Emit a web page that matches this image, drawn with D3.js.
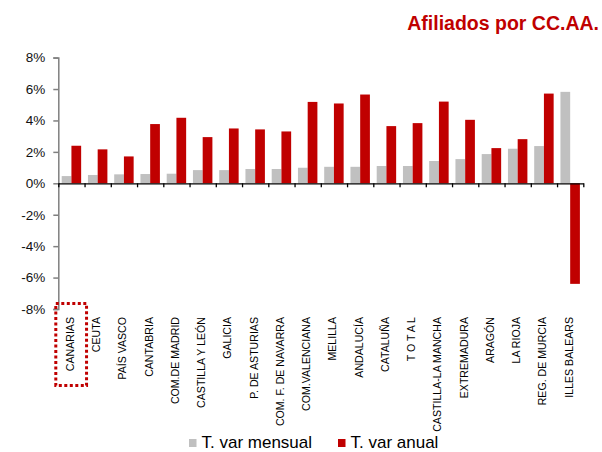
<!DOCTYPE html>
<html>
<head>
<meta charset="utf-8">
<script src="https://cdn.jsdelivr.net/npm/d3@7"></script>
<style>
  body { margin: 0; background: #fff; }
  svg { display: block; font-family: Arial, "Liberation Sans", sans-serif; }
  .yAxis path, .yAxis line { stroke: #808080; stroke-width: 1.5; }
  .xAxis path, .xAxis line { stroke: #000; stroke-width: 1.3; }
  .yAxis text { font-size: 13.5px; fill: #111; }
</style>
</head>
<body>
<div id="chartWrap"></div>
<script>
var categories = ["CANARIAS", "CEUTA", "PAÍS VASCO", "CANTABRIA", "COM.DE MADRID",
    "CASTILLA Y LEÓN", "GALICIA", "P. DE ASTURIAS", "COM. F. DE NAVARRA",
    "COM.VALENCIANA", "MELILLA", "ANDALUCÍA", "CATALUÑA", "T O T A L",
    "CASTILLA-LA MANCHA", "EXTREMADURA", "ARAGÓN", "LA RIOJA",
    "REG. DE MURCIA", "ILLES BALEARS"];
var mensual = [0.46, 0.53, 0.57, 0.59, 0.61, 0.84, 0.84, 0.91, 0.91, 0.99,
    1.05, 1.05, 1.10, 1.10, 1.42, 1.54, 1.86, 2.20, 2.37, 5.82];
var anual = [2.39, 2.16, 1.71, 3.77, 4.17, 2.94, 3.49, 3.43, 3.30, 5.18,
    5.08, 5.65, 3.64, 3.83, 5.20, 4.04, 2.24, 2.81, 5.71, -6.40];
var yTicks = [-8, -6, -4, -2, 0, 2, 4, 6, 8];
var seriesNames = ["T. var mensual", "T. var anual"];
var colors = { mensual: "#c0c0c0", anual: "#c00000" };

var W = 602, H = 452;
var plotLeft = 58.3, plotRight = 583.3;

var svg = d3.select("#chartWrap").append("svg")
    .attr("width", W)
    .attr("height", H);

// title
svg.append("text")
    .attr("x", 599)
    .attr("y", 29.5)
    .attr("text-anchor", "end")
    .attr("font-size", "19.5px")
    .attr("font-weight", "bold")
    .attr("fill", "#c00000")
    .text("Afiliados por CC.AA.");

var y = d3.scaleLinear().domain([-8, 8]).range([309, 57.6]);
var x = d3.scaleBand().domain(categories).range([plotLeft, plotRight]).padding(0);
var xInner = d3.scaleBand().domain(["mensual", "anual"])
    .range([0, x.bandwidth()]).paddingInner(0).paddingOuter(0.35);
var xEdge = d3.scaleLinear().domain([0, categories.length]).range([plotLeft, plotRight]);

// bars
var groups = svg.append("g").selectAll("g")
    .data(categories)
    .enter()
    .append("g")
    .attr("transform", function(d) { return "translate(" + x(d) + ",0)"; });

groups.append("rect")
    .attr("x", xInner("mensual"))
    .attr("y", function(d, i) { return y(Math.max(0, mensual[i])); })
    .attr("width", xInner.bandwidth())
    .attr("height", function(d, i) { return Math.abs(y(mensual[i]) - y(0)); })
    .attr("fill", colors.mensual);

groups.append("rect")
    .attr("x", xInner("anual"))
    .attr("y", function(d, i) { return y(Math.max(0, anual[i])); })
    .attr("width", xInner.bandwidth())
    .attr("height", function(d, i) { return Math.abs(y(anual[i]) - y(0)); })
    .attr("fill", colors.anual);

// y axis
svg.append("g")
    .attr("class", "yAxis")
    .attr("transform", "translate(" + plotLeft + ",0)")
    .call(d3.axisLeft(y).tickValues(yTicks).tickSize(5).tickPadding(8)
        .tickFormat(function(d) { return d + "%"; }));

// x axis at zero, ticks between categories
svg.append("g")
    .attr("class", "xAxis")
    .attr("transform", "translate(0," + y(0) + ")")
    .call(d3.axisBottom(xEdge).tickValues(d3.range(categories.length + 1))
        .tickSizeInner(4).tickSizeOuter(0).tickFormat(""));

// category labels
svg.append("g").selectAll("text")
    .data(categories)
    .enter()
    .append("text")
    .attr("transform", function(d) {
        return "translate(" + (x(d) + x.bandwidth() / 2 + 2.5) + "," + 317 + ") rotate(-90)";
    })
    .attr("text-anchor", "end")
    .attr("font-size", "10.6px")
    .attr("fill", "#000")
    .text(function(d) { return d; });

// dotted highlight around first label
svg.append("rect")
    .attr("x", x(categories[0]) - 2.5)
    .attr("y", y(-8) - 5.5)
    .attr("width", x.bandwidth() + 4.5)
    .attr("height", 82)
    .attr("fill", "none")
    .attr("stroke", "#c00000")
    .attr("stroke-width", 3)
    .attr("stroke-dasharray", "3,2.5");

// legend
var legendX = [189, 338];
var legend = svg.append("g").selectAll("g")
    .data(seriesNames)
    .enter()
    .append("g")
    .attr("transform", function(d, i) { return "translate(" + legendX[i] + ",0)"; });

legend.append("rect")
    .attr("x", 0)
    .attr("y", 439)
    .attr("width", 7.5)
    .attr("height", 8)
    .attr("fill", function(d, i) { return i == 0 ? colors.mensual : colors.anual; });

legend.append("text")
    .attr("x", 12.5)
    .attr("y", 447.5)
    .attr("font-size", "17px")
    .attr("fill", "#000")
    .text(function(d) { return d; });
</script>
</body>
</html>
